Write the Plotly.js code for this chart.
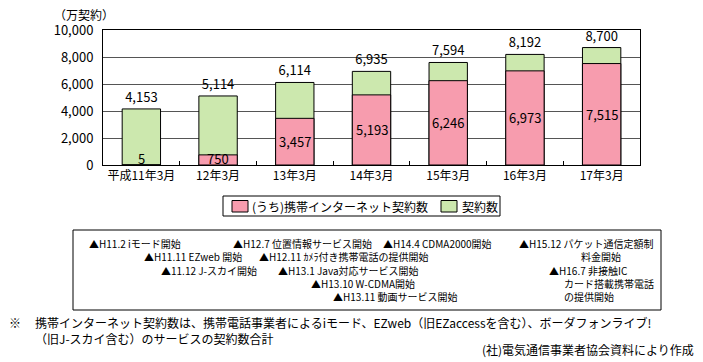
<!DOCTYPE html>
<html>
<head>
<meta charset="utf-8">
<script src="https://cdn.plot.ly/plotly-3.0.1.min.js"></script>
<style>html,body{margin:0;padding:0;background:#fff;}#chart{width:703px;height:362px;}</style>
</head>
<body>
<div id="chart"></div>
<script>
// ---- data ----
const categories = ['平成11年3月', '12年3月', '13年3月', '14年3月', '15年3月', '16年3月', '17年3月'];
const totalContracts = [4153, 5114, 6114, 6935, 7594, 8192, 8700];
const internetContracts = [5, 750, 3457, 5193, 6246, 6973, 7515];
const seriesNames = ['(うち)携帯インターネット契約数', '契約数'];
const seriesColors = ['#f79cae', '#cce8ae'];
const yUnitLabel = '（万契約）';
const eventLabels = [
  '▲H11.2 iモード開始', '▲H12.7 位置情報サービス開始', '▲H14.4 CDMA2000開始', '▲H15.12 パケット通信定額制',
  '▲H11.11 EZweb 開始', '▲H12.11 ｶﾒﾗ付き携帯電話の提供開始', '料金開始',
  '▲11.12 J-スカイ開始', '▲H13.1 Java対応サービス開始', '▲H16.7 非接触IC',
  '▲H13.10 W-CDMA開始', 'カード搭載携帯電話',
  '▲H13.11 動画サービス開始', 'の提供開始'
];
const noteMark = '※';
const noteLines = [
  '携帯インターネット契約数は、携帯電話事業者によるiモード、EZweb（旧EZaccessを含む）、ボーダフォンライブ!',
  '（旧J-スカイ含む）のサービスの契約数合計'
];
const sourceText = '(社)電気通信事業者協会資料により作成';

// ---- layout helpers ----
const W = 703, H = 362;
const M = {l: 103, r: 63, t: 30, b: 197};
const PW = W - M.l - M.r, PH = H - M.t - M.b;
const px = x => (x - M.l) / PW;
const py = y => (H - M.b - y) / PH;
const FONT = '"Noto Sans CJK JP", "Noto Sans", sans-serif';
const fmt = v => v.toLocaleString('en-US');

const traces = [
  {
    type: 'bar', name: seriesNames[1], x: categories, y: totalContracts,
    width: 0.5, showlegend: false,
    marker: {color: seriesColors[1], line: {color: '#000', width: 1}},
    text: totalContracts.map(fmt), textposition: 'outside',
    textfont: {size: 13, color: '#000', family: FONT}, cliponaxis: false,
    hoverinfo: 'none'
  },
  {
    type: 'bar', name: seriesNames[0], x: categories, y: internetContracts,
    width: 0.5, showlegend: false,
    marker: {color: seriesColors[0], line: {color: '#000', width: 1}},
    textposition: 'none', hoverinfo: 'none'
  }
];

const annotations = [];
const shapes = [];
const txt = (x, y, text, size, xanchor) => ({
  x: px(x), y: py(y), xref: 'paper', yref: 'paper', xanchor: xanchor || 'left', yanchor: 'middle',
  text: text, showarrow: false, borderpad: 0, align: 'left',
  font: {size: size, color: '#000', family: FONT}
});
// inner labels for internet contracts
categories.forEach((c, i) => {
  annotations.push({
    x: c, y: Math.max(internetContracts[i] / 2, 500), xref: 'x', yref: 'y',
    xanchor: 'center', yanchor: 'middle', borderpad: 0,
    text: fmt(internetContracts[i]), showarrow: false,
    font: {size: 13, color: '#000', family: FONT}
  });
});
// unit label
annotations.push(txt(84, 14, yUnitLabel, 12, 'center'));

// legend (drawn)
shapes.push({type: 'rect', xref: 'paper', yref: 'paper', x0: px(223), x1: px(500), y0: py(196), y1: py(216),
  line: {color: '#000', width: 1}, fillcolor: '#fff'});
const legendSwatchX = [232, 441];
const legendTextX = [251, 461];
[0, 1].forEach(k => {
  shapes.push({type: 'rect', xref: 'paper', yref: 'paper', x0: px(legendSwatchX[k]), x1: px(legendSwatchX[k] + 16),
    y0: py(200.5), y1: py(212), line: {color: '#000', width: 1}, fillcolor: seriesColors[k]});
  annotations.push(txt(legendTextX[k], 206, seriesNames[k], 12));
});

// event box
shapes.push({type: 'rect', xref: 'paper', yref: 'paper', x0: px(73), x1: px(661), y0: py(230), y1: py(310),
  line: {color: '#000', width: 1}, fillcolor: 'rgba(0,0,0,0)'});
const lineY = [243, 256.5, 270, 283, 296];
const eventPos = [
  [88, 0], [232, 0], [382, 0], [518, 0],
  [143, 1], [258, 1], [580, 1],
  [160, 2], [277, 2], [548, 2],
  [310, 3], [563, 3],
  [332, 4], [563, 4]
];
eventLabels.forEach((t, i) => {
  annotations.push(txt(eventPos[i][0], lineY[eventPos[i][1]], t, 10));
});
// notes
annotations.push(txt(8, 323, noteMark, 12));
annotations.push(Object.assign(txt(34, 330, noteLines.join('<br>'), 12), {}));
annotations.push(txt(695, 349, sourceText, 12, 'right'));

const layout = {
  width: W, height: H,
  margin: M,
  paper_bgcolor: '#fff', plot_bgcolor: '#fff',
  barmode: 'overlay',
  showlegend: false,
  font: {family: FONT, color: '#000', size: 12},
  xaxis: {
    type: 'category', showline: true, linecolor: '#000', linewidth: 1, mirror: true,
    ticks: 'inside', ticklen: 4, tickcolor: '#000', tickson: 'boundaries', tickangle: 0,
    showgrid: false, tickfont: {size: 12, color: '#000', family: FONT}, fixedrange: true
  },
  yaxis: {
    range: [0, 10000], dtick: 2000, tickformat: ',d', showline: true, linecolor: '#000', linewidth: 1, mirror: true,
    showgrid: true, gridcolor: '#555', gridwidth: 1, zeroline: false, ticks: '',
    ticklabelstandoff: 6,
    tickfont: {size: 13, color: '#000', family: FONT}, fixedrange: true
  },
  shapes: shapes,
  annotations: annotations
};

Plotly.newPlot('chart', traces, layout, {displayModeBar: false, staticPlot: true});
</script>
</body>
</html>
